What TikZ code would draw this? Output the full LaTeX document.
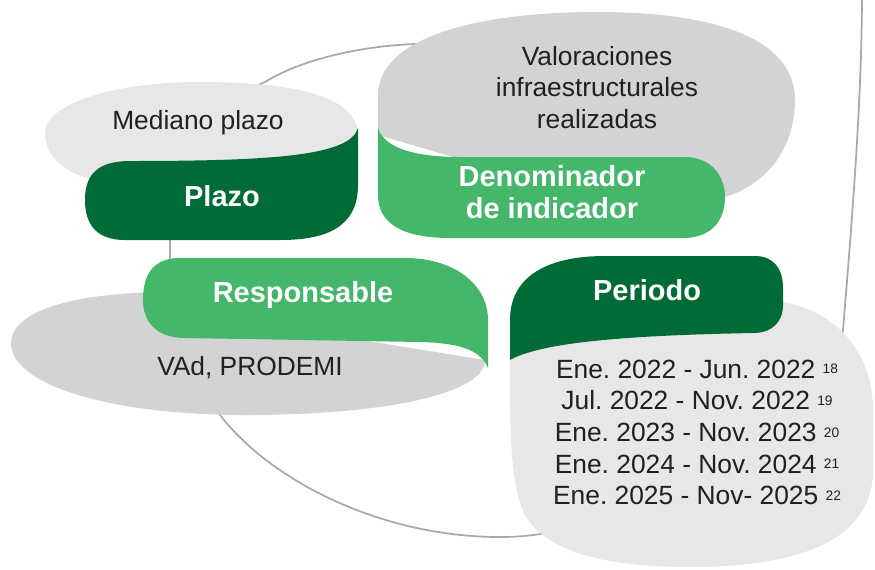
\documentclass[tikz,border=0pt]{standalone}
\usepackage{fontspec}
\setmainfont{Liberation Sans}
\usetikzlibrary{positioning}
\definecolor{darkgreen}{RGB}{0,107,53}
\definecolor{lightgreen}{RGB}{68,183,107}
\definecolor{palegray}{RGB}{230,231,232}
\definecolor{midgray}{RGB}{209,211,212}
\definecolor{loopgray}{RGB}{167,169,172}
\definecolor{textgray}{RGB}{35,31,32}
\newcommand{\supnum}[1]{\raisebox{2.6pt}{\fontsize{7.8}{8}\selectfont #1}}
\frenchspacing

\begin{document}
\begin{tikzpicture}[x=0.02cm, y=-0.02cm,
  tabtext/.style={text=white, font=\fontsize{16.5}{18}\selectfont\bfseries, align=center, inner sep=0pt},
  valtext/.style={text=textgray, font=\fontsize{15}{18}\selectfont, align=center, inner sep=0pt}]
  \useasboundingbox (0,0) rectangle (875,569);

  % Background loop - drawn first
  \begin{scope}
    \clip (0,0) rectangle (875,569);
    \draw[loopgray, line width=1pt] (560,40) -- (415,44)
      .. controls (360,46) and (300,60) .. (265,82)
      .. controls (200,110) and (170,170) .. (170,240) -- (170,262)
      .. controls (170,340) and (190,385) .. (220,415)
      .. controls (270,480) and (380,537) .. (500,537)
      .. controls (520,537) and (535,535) .. (547,533)
      .. controls (700,520) and (830,450) .. (843,330)
      .. controls (852,220) and (862,100) .. (862,-10);
  \end{scope}

  % Plazo
  \fill[palegray] (358,135) .. controls (358,95) and (290,82) .. (200,82)
    .. controls (110,82) and (45,105) .. (45,133)
    .. controls (45,160) and (70,175) .. (100,182) -- (200,205) -- (350,180) -- cycle;
  \fill[darkgreen] (130,161) .. controls (280,161) and (350,155) .. (358,128) -- (358,185)
    .. controls (358,228) and (325,240) .. (280,240) -- (125,240)
    .. controls (97,240) and (85,225) .. (85,200)
    .. controls (85,175) and (97,161) .. (130,161) -- cycle;
  \node[valtext, anchor=base] (mediano) at (198,129) {Mediano plazo};
  \node[tabtext, anchor=base] (plazo) at (222,206) {Plazo};

  % Denominador de indicador
  \fill[midgray] (378,135) -- (378,95) .. controls (378,40) and (470,12) .. (597,12)
    .. controls (730,12) and (795,45) .. (795,100)
    .. controls (795,150) and (765,185) .. (725,197) -- (600,200) -- cycle;
  \fill[lightgreen] (378,128) .. controls (385,150) and (420,157) .. (460,157) -- (685,157)
    .. controls (710,157) and (725,175) .. (725,197)
    .. controls (725,222) and (710,238) .. (683,238) -- (450,238)
    .. controls (400,238) and (378,222) .. (378,195) -- cycle;
  \node[valtext] (valoraciones) at (597,87.5) {Valoraciones\\infraestructurales\\realizadas};
  \node[tabtext] (denominador) at (552,192) {Denominador\\de indicador};

  % Responsable
  \fill[midgray] (160,292) .. controls (60,294) and (11,315) .. (11,343)
    .. controls (11,385) and (110,415) .. (245,415)
    .. controls (380,415) and (485,395) .. (485,360) -- (300,330) -- cycle;
  \fill[lightgreen] (143,300) .. controls (143,272) and (155,258) .. (180,258) -- (405,258)
    .. controls (455,258) and (488,285) .. (488,320) -- (488,368)
    .. controls (480,348) and (455,343) .. (420,342) -- (185,338)
    .. controls (160,338) and (143,325) .. (143,300) -- cycle;
  \node[tabtext, anchor=base] (responsable) at (303,302) {Responsable};
  \node[valtext, anchor=base] (vad) at (250,375) {VAd, PRODEMI};

  % Periodo
  \fill[palegray] (600,300) -- (760,300) .. controls (820,300) and (873,340) .. (873,410) -- (873,470)
    .. controls (873,540) and (800,567) .. (690,567)
    .. controls (600,567) and (545,550) .. (525,515)
    .. controls (510,485) and (510,430) .. (510,360) -- cycle;
  \fill[darkgreen] (510,360) -- (510,320) .. controls (510,276) and (548,256) .. (605,256) -- (755,256)
    .. controls (773,256) and (783,268) .. (783,288) -- (783,305)
    .. controls (783,322) and (772,333) .. (753,333)
    .. controls (650,335) and (545,340) .. (510,360) -- cycle;
  \node[tabtext, anchor=base] (periodo) at (647,300) {Periodo};
  \node[valtext] (fechas) at (697,432.5) {Ene. 2022 - Jun. 2022 \supnum{18}\\
    Jul. 2022 - Nov. 2022 \supnum{19}\\
    Ene. 2023 - Nov. 2023 \supnum{20}\\
    Ene. 2024 - Nov. 2024 \supnum{21}\\
    Ene. 2025 - Nov- 2025 \supnum{22}};
\end{tikzpicture}
\end{document}
